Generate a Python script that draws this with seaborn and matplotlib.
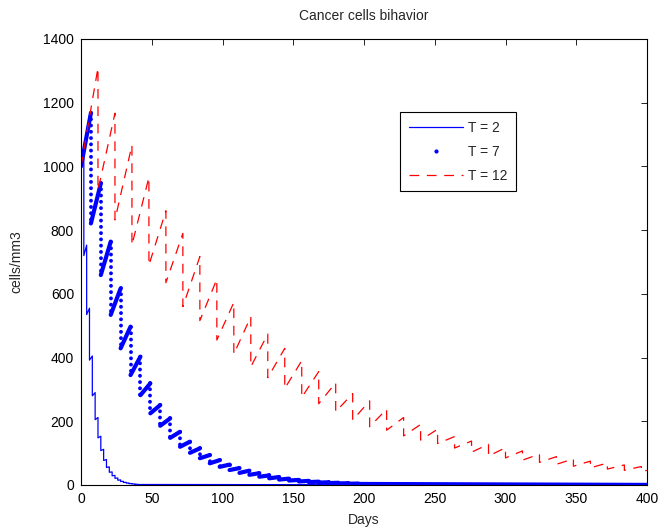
import numpy as np
import pandas as pd
import matplotlib
matplotlib.use("Agg")
import matplotlib.pyplot as plt
import seaborn as sns
from matplotlib.lines import Line2D

# start value (cells/mm3 at day 0)
start_value = 1000

# T = 2 : value just before each dose (peak) and just after it (trough)
t2_period = 2
t2_peaks = [1030, 753, 555, 405, 290, 212, 153, 112, 80, 57, 41, 30, 22, 16,
            11.5, 8.3, 6.2, 4.5, 3.2, 2.3]
t2_troughs = [720, 535, 392, 280, 205, 148, 108, 77, 55, 40, 29, 21, 15, 11,
              8, 6, 4.3, 3.1, 2.2, 1.6]
t2_end = 0

# T = 7
t7_period = 7
t7_peaks = [1168, 947, 764, 617, 497, 403, 319, 251, 209, 167, 136, 115, 94,
            78, 64, 53, 45, 37, 30, 25, 20, 16, 13, 10.5, 8.5, 7, 5.6, 4.6]
t7_troughs = [821, 659, 534, 429, 345, 282, 225, 186, 148, 120, 101, 84, 68,
              57, 47, 38, 32, 26, 21, 17, 14, 11, 9, 7.5, 6, 5, 4, 3.3]
t7_end = 0.3

# T = 12
t12_period = 12
t12_peaks = [1310, 1167, 1067, 966, 861, 790, 717, 646, 573, 528, 474, 429,
             390, 356, 321, 287, 264, 238, 212, 190, 175, 152, 138, 128, 117,
             107, 97, 89, 82, 75, 69, 63, 58]
t12_troughs = [925, 832, 753, 690, 635, 560, 516, 455, 411, 371, 337, 303,
               275, 255, 230, 204, 183, 172, 154, 141, 130, 116, 103, 91, 85,
               78, 71, 65, 59, 54, 50, 46, 42]
t12_end = 46

t_max = 400


def sawtooth(period, peaks, troughs, end):
    t, v = [0], [start_value]
    for k, (p, q) in enumerate(zip(peaks, troughs), start=1):
        t += [k * period, k * period]
        v += [p, q]
    t.append(t_max)
    v.append(end)
    return pd.DataFrame({"t": t, "v": v, "seg": 0})


df2 = sawtooth(t2_period, t2_peaks, t2_troughs, t2_end)
df12 = sawtooth(t12_period, t12_peaks, t12_troughs, t12_end)

# T = 7 drawn as dense rising parts + sparse dotted drops
rise_rows, drop_rows = [], []
prev_t, prev_v = 0, start_value
for k, (p, q) in enumerate(zip(t7_peaks, t7_troughs), start=1):
    rise_rows += [(prev_t, prev_v, k), (k * t7_period, p, k)]
    drop_rows += [(k * t7_period, p, k), (k * t7_period, q, k)]
    prev_t, prev_v = k * t7_period, q
rise_rows += [(prev_t, prev_v, 999), (t_max, t7_end, 999)]
rise7 = pd.DataFrame(rise_rows, columns=["t", "v", "seg"])
drop7 = pd.DataFrame(drop_rows, columns=["t", "v", "seg"])

sns.set_style("white")
plt.rcParams['font.family'] = ['Liberation Sans', 'DejaVu Sans']
plt.rcParams['font.size'] = 10
plt.rcParams['lines.scale_dashes'] = False

fig = plt.figure(figsize=(6.62, 5.28), dpi=100)
ax = fig.add_axes([81 / 662, 1 - 485 / 528, 566 / 662, 446 / 528])

sns.lineplot(data=df2, x="t", y="v", units="seg", estimator=None, sort=False,
             color="#0000ff", lw=0.9, legend=False, ax=ax)
sns.lineplot(data=rise7, x="t", y="v", units="seg", estimator=None, sort=False,
             color="#0000ff", lw=3.0, legend=False, ax=ax)
sns.lineplot(data=drop7, x="t", y="v", units="seg", estimator=None, sort=False,
             color="#0000ff", lw=2.8, linestyle=(0, (0.01, 4.5)),
             dash_capstyle="round", legend=False, ax=ax)
sns.lineplot(data=df12, x="t", y="v", units="seg", estimator=None, sort=False,
             color="#ff0000", lw=0.9, linestyle=(0, (7, 5.5)),
             legend=False, ax=ax)

ax.set_xlim(0, 400)
ax.set_ylim(0, 1400)
ax.set_xticks(range(0, 401, 50))
ax.set_yticks(range(0, 1401, 200))
ax.tick_params(direction="in", length=4, width=0.6, top=True, right=True,
               labelsize=10, colors="black", pad=5)
for s in ax.spines.values():
    s.set_color("black")
    s.set_linewidth(0.8)

ax.set_title("Cancer cells bihavior", fontsize=10, pad=14)
ax.set_xlabel("Days", fontsize=10, labelpad=5)
ax.set_ylabel("cells/mm3", fontsize=10, labelpad=14)

handles = [
    Line2D([], [], color="#0000ff", lw=0.9),
    Line2D([], [], color="#0000ff", ls="none", marker=".", markersize=4),
    Line2D([], [], color="#ff0000", lw=0.9, ls=(0, (7, 5.5))),
]
leg = ax.legend(handles, ["T = 2", "T = 7", "T = 12"], loc="upper left",
                bbox_to_anchor=(0.5636, 0.836), borderaxespad=0,
                fontsize=10, handlelength=3.9, handletextpad=0.4,
                labelspacing=0.72, borderpad=0.62, fancybox=False,
                framealpha=1, edgecolor="black")
leg.get_frame().set_linewidth(0.8)

fig.savefig("out.png", dpi=100)
